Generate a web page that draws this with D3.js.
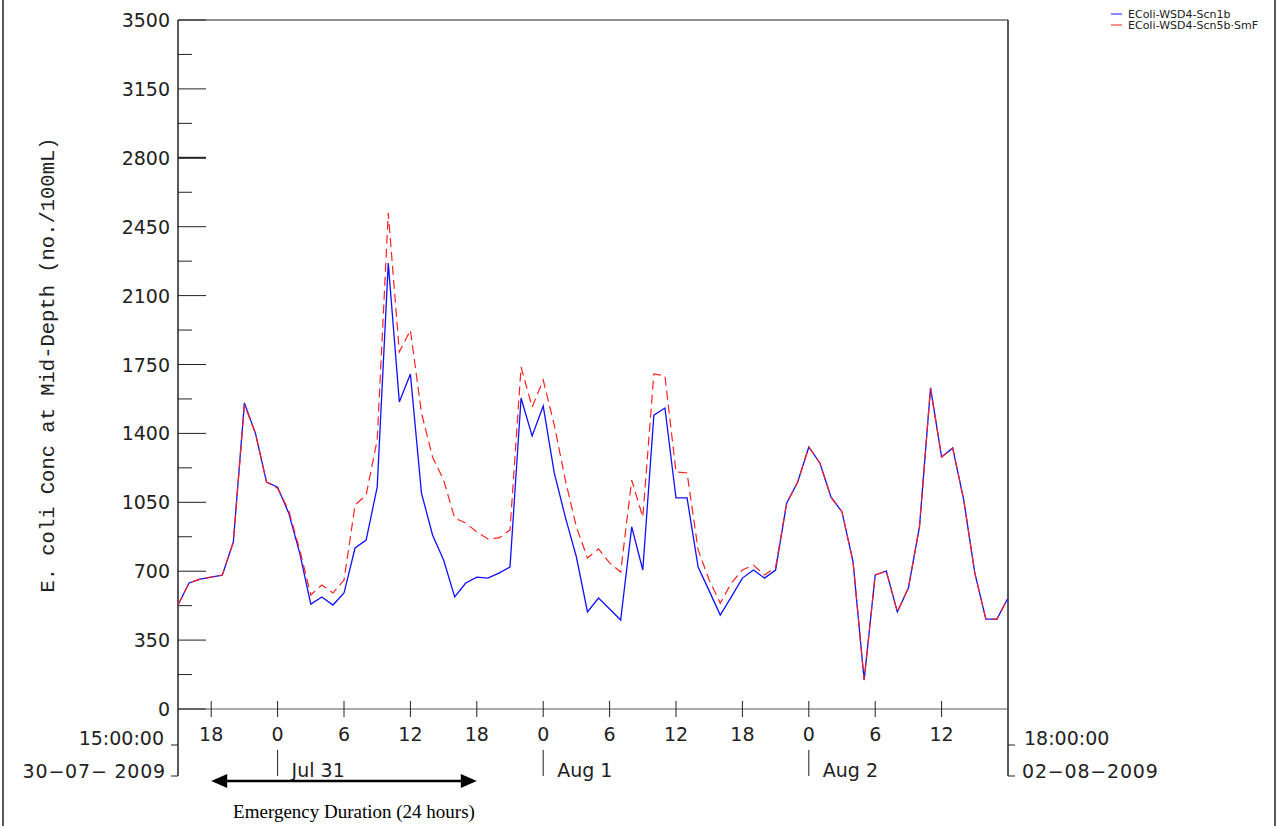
<!DOCTYPE html>
<html><head><meta charset="utf-8">
<script src="https://cdn.jsdelivr.net/npm/d3@7"></script>
<style>body{margin:0;background:#fff}svg{display:block}</style>
</head><body><svg id="c" width="1278" height="826"></svg>
<script>
// hours since 30-07-2009 15:00
const hours = d3.range(0, 76);
const blue = [528,640,660,670,680,848,1555,1400,1153,1127,996,792,533,569,528,589,818,858,1127,2265,1560,1702,1097,884,757,569,640,670,665,690,721,1580,1387,1539,1199,975,772,493,564,508,452,925,706,1493,1529,1072,1072,721,600,477,570,665,706,665,706,1046,1153,1331,1250,1077,1001,747,147,681,701,493,615,925,1631,1280,1326,1062,691,457,457,564];
const red = [528,640,660,670,680,848,1545,1400,1153,1122,1010,808,579,630,589,655,1036,1087,1367,2520,1814,1925,1504,1280,1163,970,945,899,864,869,909,1737,1534,1671,1443,1163,925,767,813,742,696,1163,975,1702,1692,1204,1199,808,655,538,640,706,731,681,721,1046,1153,1331,1250,1077,1001,747,147,681,701,493,615,925,1631,1280,1326,1062,691,457,457,564];
const seriesNames = ["ECoIi-WSD4-Scn1b","ECoIi-WSD4-Scn5b\u00B7SmF"];
const yTicks = [0,350,700,1050,1400,1750,2100,2450,2800,3150,3500];
const hourTicks = [3,9,15,21,27,33,39,45,51,57,63,69];
const hourLabels = ["18","0","6","12","18","0","6","12","18","0","6","12"];
const days = [{h:9,label:"Jul 31"},{h:33,label:"Aug 1"},{h:57,label:"Aug 2"}];

const svg = d3.select("#c");
const L=178,R=1008,T=20,B=709;
const x = d3.scaleLinear().domain([0,75]).range([L,R]);
const y = d3.scaleLinear().domain([0,3500]).range([B,T]);
const ink="#222", f="DejaVu Sans";

svg.append("line").attr("x1",3).attr("x2",3).attr("y1",0).attr("y2",826).attr("stroke",ink).attr("stroke-width",1.5);
svg.append("line").attr("x1",1275).attr("x2",1275).attr("y1",0).attr("y2",826).attr("stroke",ink).attr("stroke-width",1.5);

svg.append("line").attr("x1",L).attr("x2",R).attr("y1",T).attr("y2",T).attr("stroke",ink);
svg.append("line").attr("x1",L).attr("x2",L).attr("y1",T).attr("y2",776).attr("stroke",ink).attr("stroke-width",1.5);
svg.append("line").attr("x1",R).attr("x2",R).attr("y1",T).attr("y2",776).attr("stroke",ink).attr("stroke-width",1.5);
svg.append("line").attr("x1",L).attr("x2",R).attr("y1",B).attr("y2",B).attr("stroke","#555").attr("stroke-width",1.2);

const minor = d3.range(175,3500,350);
svg.selectAll(".ymin").data(minor).join("line").attr("x1",L).attr("x2",L+14).attr("y1",d=>y(d)).attr("y2",d=>y(d)).attr("stroke",ink);
svg.selectAll(".ymaj").data(yTicks).join("line").attr("x1",L).attr("x2",L+28).attr("y1",d=>y(d)).attr("y2",d=>y(d)).attr("stroke",ink).attr("stroke-width",d=>d===2800?2:1);
svg.selectAll(".ylab").data(yTicks).join("text").attr("x",L-8).attr("y",d=>y(d)+7).attr("text-anchor","end")
  .attr("font-family",f).attr("font-size",19).attr("fill","#222").text(d=>d);

svg.selectAll(".xt").data(hourTicks).join("line").attr("x1",d=>x(d)).attr("x2",d=>x(d)).attr("y1",B-8).attr("y2",B+8).attr("stroke",ink);
svg.selectAll(".xl").data(hourTicks).join("text").attr("x",(d)=>x(d)).attr("y",741).attr("text-anchor","middle")
  .attr("font-family",f).attr("font-size",19).attr("fill","#222").text((d,i)=>hourLabels[i]);
svg.selectAll(".dl").data(days).join("line").attr("x1",d=>x(d.h)).attr("x2",d=>x(d.h)).attr("y1",750).attr("y2",776).attr("stroke",ink);
svg.selectAll(".dt").data(days).join("text").attr("x",d=>x(d.h)+14).attr("y",777)
  .attr("font-family",f).attr("font-size",19).attr("fill","#222").text(d=>d.label);

svg.append("text").attr("x",L-14).attr("y",745).attr("text-anchor","end").attr("font-family",f).attr("font-size",19).attr("fill","#222").text("15:00:00");
svg.append("text").attr("x",L-12).attr("y",778).attr("text-anchor","end").attr("font-family",f).attr("font-size",19).attr("fill","#222").attr("letter-spacing",0.8).text("30\u221207\u2212 2009");
svg.append("line").attr("x1",L-7).attr("x2",L).attr("y1",745).attr("y2",745).attr("stroke",ink);
svg.append("line").attr("x1",L-7).attr("x2",L).attr("y1",776).attr("y2",776).attr("stroke",ink);
svg.append("text").attr("x",R+16).attr("y",745).attr("font-family",f).attr("font-size",19).attr("fill","#222").text("18:00:00");
svg.append("text").attr("x",R+14).attr("y",778).attr("font-family",f).attr("font-size",19).attr("fill","#222").attr("letter-spacing",0.8).text("02\u221208\u22122009");
svg.append("line").attr("x1",R).attr("x2",R+7).attr("y1",745).attr("y2",745).attr("stroke",ink);
svg.append("line").attr("x1",R).attr("x2",R+7).attr("y1",776).attr("y2",776).attr("stroke",ink);

svg.append("text").attr("transform","translate(54,365) rotate(-90)").attr("text-anchor","middle")
  .attr("font-family","Liberation Mono").attr("font-size",20.5).attr("fill","#222").text("E. coli Conc at Mid-Depth (no./100mL)");

const line = d3.line().x((d,i)=>x(hours[i])).y(d=>y(d));
svg.append("path").datum(blue).attr("d",line).attr("fill","none").attr("stroke","#1010ff").attr("stroke-width",1.3);
svg.append("path").datum(red).attr("d",line).attr("fill","none").attr("stroke","#ff2020").attr("stroke-width",1.2).attr("stroke-dasharray","9,5");

const lg = svg.append("g");
[["#1010ff",14],["#ff2020",25]].forEach(([c,yy],i)=>{
  lg.append("line").attr("x1",1111).attr("x2",1122).attr("y1",yy).attr("y2",yy).attr("stroke",c);
  lg.append("text").attr("x",1128).attr("y",yy+4).attr("font-family",f).attr("font-size",11).attr("fill","#222").text(seriesNames[i]);
});

const ax1 = x(3), ax2 = x(27);
svg.append("line").attr("x1",ax1+14).attr("x2",ax2-14).attr("y1",781).attr("y2",781).attr("stroke","#000").attr("stroke-width",2.5);
svg.append("path").attr("d",`M${ax1},781 L${ax1+16},774 L${ax1+16},788 Z`).attr("fill","#000");
svg.append("path").attr("d",`M${ax2},781 L${ax2-16},774 L${ax2-16},788 Z`).attr("fill","#000");
svg.append("text").attr("x",(ax1+ax2)/2+10).attr("y",818).attr("text-anchor","middle").attr("font-family","Liberation Serif").attr("font-size",19).attr("fill","#000").text("Emergency Duration (24 hours)");
</script></body></html>
